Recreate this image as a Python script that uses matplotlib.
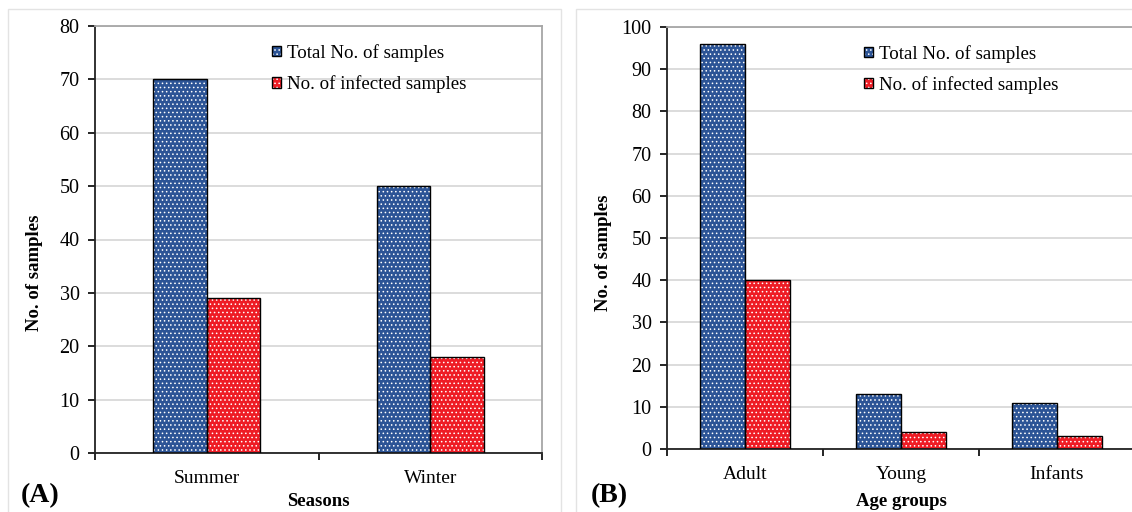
import matplotlib.pyplot as plt
import numpy as np
from matplotlib.patches import Patch, Rectangle
from matplotlib.ticker import FixedLocator, NullFormatter, FixedFormatter

plt.rcParams['font.family'] = ['Liberation Serif', 'DejaVu Serif']
plt.rcParams['hatch.linewidth'] = 0.6

# data
seasons = ['Summer', 'Winter']
season_total = [70, 50]
season_infected = [29, 18]

ages = ['Adult', 'Young', 'Infants']
age_total = [96, 13, 11]
age_infected = [40, 4, 3]

legend_labels = ['Total No. of samples', 'No. of infected samples']

blue = '#2C5496'
red = '#EE1C25'
grid_gray = '#D9D9D9'

fig = plt.figure(figsize=(11.32, 5.12), dpi=100)

# light panel frames
for x0, x1 in [(8, 561), (576, 1140)]:
    fig.patches.append(Rectangle((x0 / 1132, -0.02), (x1 - x0) / 1132, 1 - 9 / 512 + 0.02,
                                 transform=fig.transFigure, fill=False,
                                 edgecolor='#E3E3E3', linewidth=1.0, zorder=0))


def hatched_bars(ax, x, vals, width, color):
    # fill with white dots, then black outline on top
    ax.bar(x, vals, width, color=color, edgecolor='white', hatch='....',
           linewidth=0, zorder=2)
    ax.bar(x, vals, width, fill=False, edgecolor='black', linewidth=1.0, zorder=3)


def legend_handle(color):
    return (Patch(facecolor=color, edgecolor='white', hatch='....', linewidth=0),
            Patch(fill=False, edgecolor='black', linewidth=1.0))


def draw_panel(ax, cats, total, infected, ymax, width, xlabel, leg_x, ax_w, ax_h):
    n = len(cats)
    x = np.arange(n)
    hatched_bars(ax, x - width / 2, total, width, blue)
    hatched_bars(ax, x + width / 2, infected, width, red)

    ax.set_xlim(-0.5, n - 0.5)
    ax.set_ylim(0, ymax)
    ax.set_yticks(np.arange(0, ymax + 1, 10))
    ax.yaxis.grid(True, color=grid_gray, linewidth=1.3)
    ax.set_axisbelow(True)

    # boundary ticks, labels at centres
    ax.xaxis.set_major_locator(FixedLocator(np.arange(n + 1) - 0.5))
    ax.xaxis.set_major_formatter(NullFormatter())
    ax.xaxis.set_minor_locator(FixedLocator(x))
    ax.xaxis.set_minor_formatter(FixedFormatter(cats))
    ax.tick_params(axis='x', which='major', length=5, width=1.2, direction='out')
    ax.tick_params(axis='x', which='minor', length=0, pad=12, labelsize=14)
    ax.tick_params(axis='y', length=5, width=1.2, direction='out', pad=6, labelsize=14.5)

    for s in ['left', 'bottom']:
        ax.spines[s].set_color('#222222')
        ax.spines[s].set_linewidth(1.3)
    for s in ['top', 'right']:
        ax.spines[s].set_color('#A6A6A6')
        ax.spines[s].set_linewidth(1.3)

    ax.set_ylabel('No. of samples', fontsize=13.5, fontweight='bold')
    ax.set_xlabel(xlabel, fontsize=13.5, fontweight='bold')
    ax.xaxis.set_label_coords(0.5, -40 / ax_h)

    ax.legend([legend_handle(blue), legend_handle(red)], legend_labels,
              loc='upper left', bbox_to_anchor=(leg_x, 0.958), frameon=False,
              fontsize=13.6, handlelength=0.5, handleheight=0.5, handletextpad=0.3,
              labelspacing=0.7, borderpad=0, borderaxespad=0)


ax1 = fig.add_axes([95 / 1132, 1 - 453 / 512, 447 / 1132, 427 / 512])
draw_panel(ax1, seasons, season_total, season_infected, 80, 0.24, 'Seasons', 0.395, 447, 427)
ax1.yaxis.set_label_coords(-52 / 447, 180 / 427)

ax2 = fig.add_axes([667 / 1132, 1 - 449 / 512, 468 / 1132, 422 / 512])
draw_panel(ax2, ages, age_total, age_infected, 100, 0.29, 'Age groups', 0.42, 468, 422)
ax2.xaxis.set_label_coords(0.5, -44 / 422)
ax2.yaxis.set_label_coords(-55 / 468, 196 / 422)

fig.text(21 / 1132, 1 - 496 / 512, '(A)', fontsize=20, fontweight='bold', va='center', ha='left')
fig.text(591 / 1132, 1 - 496 / 512, '(B)', fontsize=20, fontweight='bold', va='center', ha='left')

fig.savefig('out.png', dpi=100)
